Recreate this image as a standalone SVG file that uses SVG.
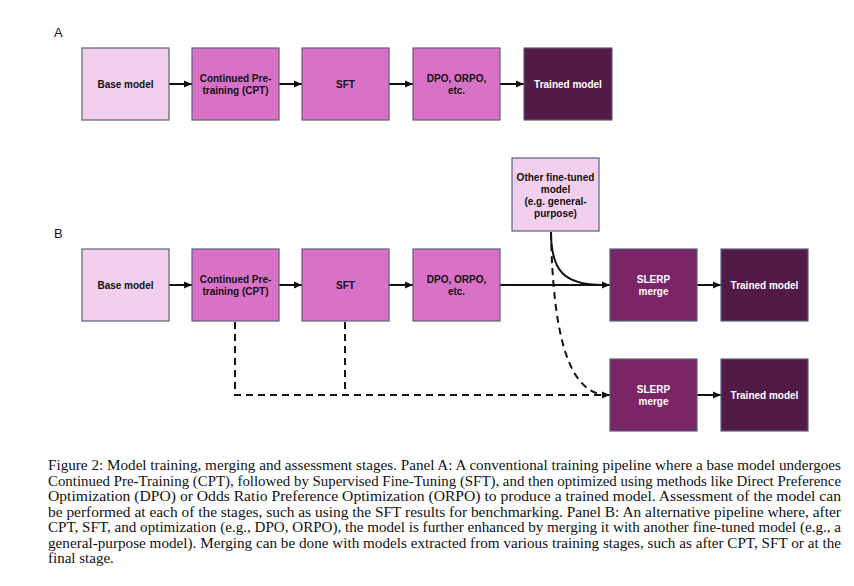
<svg xmlns="http://www.w3.org/2000/svg" width="854" height="586" viewBox="0 0 854 586">
<defs>
<style>
.box{stroke:#5b6178;stroke-width:1.2}
.light{fill:#f2cfec}
.mid{fill:#d972c6}
.slerp{fill:#7b2566}
.dark{fill:#521a47}
.t{font-family:"Liberation Sans",Arial,sans-serif;font-weight:bold;font-size:10px;text-anchor:middle;fill:#111}
.w{fill:#ffffff}
.lab{font-family:"Liberation Sans",Arial,sans-serif;font-size:13px;fill:#111}
.cap{font-family:"Liberation Serif","Times New Roman",serif;font-size:15px;fill:#111}
.c{fill:none;stroke:#111;stroke-width:2}
.d{stroke-dasharray:7 5}
</style>
<marker id="ah" viewBox="0 0 8 8" refX="8" refY="4" markerWidth="8" markerHeight="8" markerUnits="userSpaceOnUse" orient="auto">
<path d="M0,0.5 L8,4 L0,7.5 z" fill="#111"/>
</marker>
</defs>
<rect width="854" height="586" fill="#ffffff"/>
<text class="lab" x="54" y="37">A</text>
<text class="lab" x="54" y="238">B</text>

<g id="connectors">
<line class="c" x1="169" y1="84" x2="192" y2="84" marker-end="url(#ah)"/>
<line class="c" x1="279" y1="84" x2="302" y2="84" marker-end="url(#ah)"/>
<line class="c" x1="389" y1="84" x2="413" y2="84" marker-end="url(#ah)"/>
<line class="c" x1="500" y1="84" x2="524" y2="84" marker-end="url(#ah)"/>
<line class="c" x1="169" y1="285" x2="192" y2="285" marker-end="url(#ah)"/>
<line class="c" x1="279" y1="285" x2="302" y2="285" marker-end="url(#ah)"/>
<line class="c" x1="389" y1="285" x2="413" y2="285" marker-end="url(#ah)"/>
<line class="c" x1="500" y1="285" x2="610" y2="285" marker-end="url(#ah)"/>
<path class="c" d="M551,232 C551,272 565,285 603,285"/>
<line class="c" x1="697" y1="285" x2="721" y2="285" marker-end="url(#ah)"/>
<line class="c" x1="697" y1="395" x2="721" y2="395" marker-end="url(#ah)"/>
<path class="c d" d="M235,322 L235,395 L610,395" marker-end="url(#ah)"/>
<path class="c d" d="M345,322 L345,395"/>
<path class="c d" d="M551,232 C553,340 570,395 608,395"/>
</g>

<g id="a-base"><rect class="box light" x="82" y="48" width="87" height="72"/><text class="t" x="125.5" y="88">Base model</text></g>
<g id="a-cpt"><rect class="box mid" x="192" y="48" width="87" height="72"/><text class="t" x="235.5" y="82">Continued Pre-</text><text class="t" x="235.5" y="94">training (CPT)</text></g>
<g id="a-sft"><rect class="box mid" x="302" y="48" width="87" height="72"/><text class="t" x="345.5" y="88">SFT</text></g>
<g id="a-dpo"><rect class="box mid" x="413" y="48" width="87" height="72"/><text class="t" x="456.5" y="82">DPO, ORPO,</text><text class="t" x="456.5" y="94">etc.</text></g>
<g id="a-trained"><rect class="box dark" x="524" y="48" width="88" height="72"/><text class="t w" x="568" y="88">Trained model</text></g>

<g id="b-other"><rect class="box light" x="512" y="158" width="87" height="73"/><text class="t" x="555.5" y="181">Other fine-tuned</text><text class="t" x="555.5" y="193">model</text><text class="t" x="555.5" y="205">(e.g. general-</text><text class="t" x="555.5" y="217">purpose)</text></g>
<g id="b-base"><rect class="box light" x="82" y="249" width="87" height="72"/><text class="t" x="125.5" y="289">Base model</text></g>
<g id="b-cpt"><rect class="box mid" x="192" y="249" width="87" height="72"/><text class="t" x="235.5" y="283">Continued Pre-</text><text class="t" x="235.5" y="295">training (CPT)</text></g>
<g id="b-sft"><rect class="box mid" x="302" y="249" width="87" height="72"/><text class="t" x="345.5" y="289">SFT</text></g>
<g id="b-dpo"><rect class="box mid" x="413" y="249" width="87" height="72"/><text class="t" x="456.5" y="283">DPO, ORPO,</text><text class="t" x="456.5" y="295">etc.</text></g>
<g id="b-slerp1"><rect class="box slerp" x="610" y="249" width="87" height="72"/><text class="t w" x="653.5" y="283">SLERP</text><text class="t w" x="653.5" y="295">merge</text></g>
<g id="b-trained1"><rect class="box dark" x="721" y="249" width="87" height="72"/><text class="t w" x="764.5" y="289">Trained model</text></g>
<g id="b-slerp2"><rect class="box slerp" x="610" y="359" width="87" height="72"/><text class="t w" x="653.5" y="393">SLERP</text><text class="t w" x="653.5" y="405">merge</text></g>
<g id="b-trained2"><rect class="box dark" x="721" y="359" width="87" height="72"/><text class="t w" x="764.5" y="399">Trained model</text></g>

<g id="caption" class="cap">
<text x="48" y="470" textLength="793" lengthAdjust="spacingAndGlyphs">Figure 2: Model training, merging and assessment stages. Panel A: A conventional training pipeline where a base model undergoes</text>
<text x="48" y="485.5" textLength="793" lengthAdjust="spacingAndGlyphs">Continued Pre-Training (CPT), followed by Supervised Fine-Tuning (SFT), and then optimized using methods like Direct Preference</text>
<text x="48" y="501" textLength="793" lengthAdjust="spacingAndGlyphs">Optimization (DPO) or Odds Ratio Preference Optimization (ORPO) to produce a trained model.  Assessment of the model can</text>
<text x="48" y="516.5" textLength="793" lengthAdjust="spacingAndGlyphs">be performed at each of the stages, such as using the SFT results for benchmarking. Panel B: An alternative pipeline where, after</text>
<text x="48" y="532" textLength="793" lengthAdjust="spacingAndGlyphs">CPT, SFT, and optimization (e.g., DPO, ORPO), the model is further enhanced by merging it with another fine-tuned model (e.g., a</text>
<text x="48" y="547.5" textLength="793" lengthAdjust="spacingAndGlyphs">general-purpose model). Merging can be done with models extracted from various training stages, such as after CPT, SFT or at the</text>
<text x="48" y="563">final stage.</text>
</g>
</svg>
